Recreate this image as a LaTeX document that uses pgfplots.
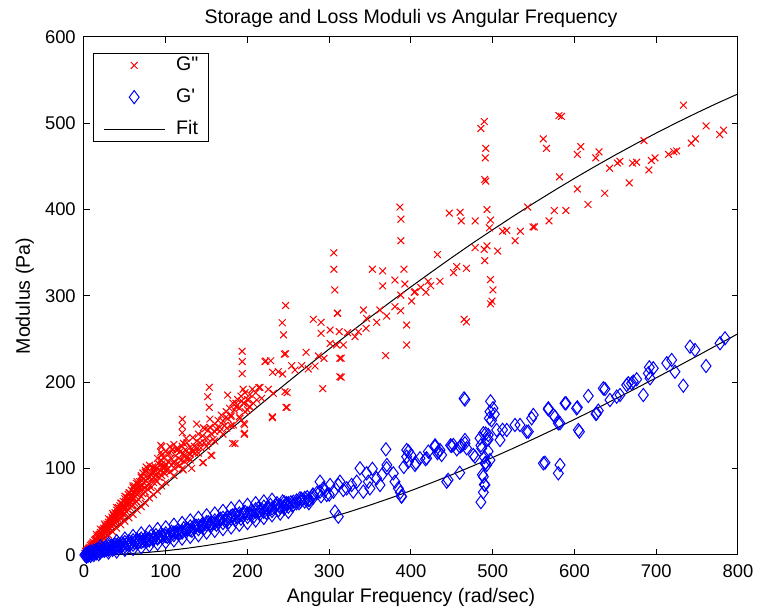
\documentclass[border=0pt]{standalone}
\usepackage{pgfplots}
\pgfplotsset{compat=1.18}
\usepackage{fontspec}
\setmainfont{Liberation Sans}[Ligatures=TeXOff]
\newcommand{\lblfont}{\fontsize{9.8}{11.5}\selectfont}
\newcommand{\tckfont}{\fontsize{9.2}{11}\selectfont}
\begin{document}
\begin{tikzpicture}
\begin{axis}[
  scale only axis, width=327pt, height=259pt,
  xmin=0, xmax=800, ymin=0, ymax=600,
  xtick={0,100,...,800}, ytick={0,100,...,600},
  clip=false,
  /pgf/number format/assume math mode=true,
  tick align=inside, major tick length=3pt,
  tick style={black, line width=0.5pt},
  axis line style={line width=0.5pt},
  ticklabel style={font=\tckfont},
  xticklabel style={yshift=-1.5pt},
  yticklabel style={xshift=-0.6pt},
  title={Storage and Loss Moduli vs Angular Frequency},
  title style={at={(axis description cs:0.5,1)}, anchor=base, yshift=0.5pt, font=\lblfont},
  xlabel={Angular Frequency (rad/sec)},
  xlabel style={at={(axis description cs:0.5,0)}, anchor=base, yshift=-24pt, font=\lblfont},
  ylabel={Modulus (Pa)},
  ylabel style={at={(axis description cs:-0.0826,0.5)}, anchor=base, rotate=0, font=\lblfont},
  legend cell align=left,
  legend image code/.code={\draw[mark repeat=2,mark phase=2,#1] plot coordinates {(0pt,0pt) (15.25pt,0pt) (30.5pt,0pt)};},
  legend style={at={(axis description cs:0,1)}, anchor=north west, xshift=4.35pt, yshift=-8.1pt,
    draw=black, line width=0.5pt, inner xsep=5pt, inner ysep=1.7pt, row sep=7.5pt, column sep=5.5pt,
    nodes={inner sep=0pt}, font=\lblfont},
]
\coordinate (ll) at (rel axis cs:0,0);
\coordinate (ur) at (rel axis cs:1,1);
% G'' (loss modulus)
\addplot[only marks, mark=x, red, mark size=2.4pt, line width=0.5pt] coordinates {
(1,2) (2,4) (2,1) (3,5) (3,3) (4,6) (4,3) (5,7) (5,4) (6,8) (6,5) (7,9) (7,6) (8,11) (8,7) (9,12) (9,8) (10,13) (10,9)
(11,15) (11,10) (12,14) (12,11) (13,17) (13,12) (14,18) (14,13) (15,19) (15,14) (16,21) (16,15) (17,20) (17,16) (18,23) (18,17)
(19,24) (19,18) (20,26) (20,19) (21,25) (21,21) (22,28) (22,22) (23,29) (23,24) (24,31) (24,23) (25,30) (25,26) (26,34) (26,25)
(27,32) (27,28) (28,36) (28,27) (29,35) (29,30) (30,38) (30,29) (31,36) (31,32) (32,41) (32,31) (33,39) (33,34) (34,44) (34,33)
(35,42) (35,37) (36,46) (36,35) (37,44) (37,39) (38,49) (38,37) (39,47) (39,42) (40,52) (40,39) (41,48) (41,44) (42,55) (42,41)
(43,51) (43,46) (44,57) (44,43) (45,54) (45,48) (46,60) (46,45) (47,56) (47,50) (48,62) (48,47) (49,58) (49,53) (50,65) (50,48)
(51,61) (51,55) (52,67) (52,50) (53,63) (53,57) (54,70) (54,52) (55,66) (55,60) (56,72) (56,55) (57,68) (57,62) (58,75) (58,57)
(59,70) (59,64) (60,78) (60,58) (61,73) (61,66) (62,80) (62,60) (63,76) (63,68) (64,83) (64,62) (65,78) (65,70) (66,82) (67,73)
(67,64) (68,85) (69,76) (70,90) (70,68) (71,80) (72,95) (72,71) (73,84) (74,78) (75,98) (75,73) (76,86) (77,80) (78,100) (78,76)
(79,90) (80,82) (81,94) (82,78) (83,88) (84,102) (85,84) (86,96) (87,88) (88,100) (89,85) (90,95) (91,106) (92,90) (93,98)
(94,110) (95,92) (96,103) (97,96) (98,112) (99,94) (100,105) (101,98) (102,118) (103,100) (104,108) (105,96) (106,112) (107,104)
(108,122) (110,108) (111,100) (112,115) (113,105) (114,124) (116,112) (117,104) (118,120) (119,110) (120,126) (122,115) (123,108)
(124,122) (125,112) (126,130) (128,118) (129,112) (130,125) (132,120) (133,136) (135,126) (136,118) (138,132) (139,124) (140,140)
(142,130) (143,124) (145,138) (147,130) (148,146) (150,136) (152,130) (154,148) (156,140) (158,134) (160,152) (162,146) (164,156)
(166,148) (168,162) (170,155) (172,150) (174,166) (176,158) (178,170) (180,162) (182,176) (184,168) (186,172) (188,180) (190,170)
(192,184) (195,176) (197,188) (200,180) (203,186) (206,192) (210,188)
(15,24) (20,30) (25,36) (30,42) (35,48) (40,55) (45,60) (50,68) (55,72) (60,80) (65,85) (70,92) (75,96) (80,104) (85,100)
(90,112) (100,120) (105,118) (110,128) (115,122) (125,135)
(20,14) (25,19) (30,23) (35,27) (40,31) (45,35) (50,39) (55,43) (60,47) (65,52) (70,56) (75,60) (80,66) (85,70) (90,74) (95,80)
(100,84) (110,92) (120,100) (130,110) (140,118) (150,126) (160,132) (170,140) (180,150) (190,160) (200,168)
(22,25) (27,30) (33,37) (38,43) (43,50) (48,56) (53,60) (58,66) (63,72) (68,78) (73,88) (78,88) (83,95) (88,92) (93,104) (98,100)
(120.3,157.2) (120.3,149.5) (120.3,141.7) (121.5,129.4) (95,125.5) (95,115.8) (95,105.4) (94,127) (94,119) (76,102)
(181.9,129.4) (196,139.8) (155.3,115.8) (145.2,107) (175.8,185.3) (185.9,175.7) (173.7,159.5) (179.8,160.2) (192.9,178.4)
(201,179.5) (214,194) (221.4,224) (228.4,225) (230.3,160.2) (137.9,151.7) (146,147.5) (152,144.8) (160.2,142.8) (166.4,143.6)
(105.2,125.5) (113.4,121.6) (121.5,117.8) (129.7,117) (133.7,119.7) (174.6,146.8) (182.6,150.6) (190.8,158.3) (197,166)
(203,171.8) (211.3,179.5) (86.9,102.3) (99.1,102.3) (109.2,106.2) (121.5,98.5) (131.7,100.4) (153.3,194.2) (151.3,183.4)
(153.3,171) (154.1,157.5) (156.3,115) (146,107) (184.7,129) (196.5,141) (196.5,151)
(193.5,236) (193.5,224) (193.5,210) (194.7,192) (195.7,175.7) (195.7,152.5)
(222.6,224.7) (230.8,211.6) (237.7,212.3) (243,209.7) (245,232.8) (215.3,194.2) (225.5,191.9) (217.4,181.5) (207.1,175.7)
(202.2,171.8) (231.6,187.3) (245.9,189.2) (247.1,171) (230.4,159) (254,219.3) (258.1,214.3) (266.3,219.3) (271.6,234.8)
(274.4,215.5) (282.6,218.9) (292,192.7) (286.6,230.5) (293.6,227.8) (246.6,289) (242.5,269) (244,255) (246.6,233) (248.5,171) (248.5,188)
(290,269.5) (290,256.8) (280.5,273) (301,260.6) (310.3,280) (313,227.8) (313,206.5) (301,245) (309,243.3) (317.2,243.3)
(312.3,258.7) (322.5,257.5) (331.5,252.9) (335.6,258.7) (341.7,283.8) (345,262.6) (345.8,274) (358,269.5) (362,283.8)
(370.3,276.8) (369,231) (352.7,331) (365.4,329) (365.4,311.6) (380.4,318.5) (387.4,301) (391.4,331) (392.6,313.9) (380.4,287.6)
(387.4,283) (394.7,266.4) (394.7,243.3) (400.8,294.2) (405,305) (305.6,350) (305.6,331) (306.8,307) (310,280) (314.6,228)
(314.6,206) (386.5,403) (387.7,389) (387.7,364)
(432.4,348) (435.4,317) (421,317) (424,312) (412,310) (404,304.3) (418.3,304.3) (446.8,396) (460,397) (461.4,387) (452,327)
(456,334) (467.8,332) (465,273) (467.8,270) (478.5,387) (478.5,356) (485.5,494) (489.7,502) (490.8,460) (491.4,471) (490.2,435)
(491.4,433) (493,400) (497.3,388) (496,379) (493,358) (489.7,354) (490.2,341) (497.3,319) (500.3,307) (499,294) (497.3,291)
(506,352) (512,375) (517.2,376) (527.4,364) (533.8,375) (542.7,403) (549.2,380) (551,380) (561.7,482) (565.8,471) (568.8,387)
(575.3,399) (581,509) (584,508) (581.7,438) (589.4,399) (603.5,464) (607.7,473) (603.5,424) (616.5,406) (626,460) (630,467)
(637,419) (643,448) (652.5,454) (655.5,456) (667,431) (671,454) (676,455) (685,480) (691,446) (694,457) (698.5,460) (715,464)
(721.5,467) (725,468) (733.3,521) (742.8,477) (748,482) (761,497) (777.6,487) (782.3,492)
};
\addlegendentry{G"}
% G' (storage modulus)
\addplot[only marks, mark=diamond, blue, mark size=3.3pt, line width=0.5pt] coordinates {
(1,0) (2,1) (3,0) (4,2) (5,1) (6,3) (7,1) (8,4) (9,2) (10,3) (12,5) (13,2) (14,4) (15,6) (16,3) (18,7) (19,4) (20,6) (22,8)
(23,5) (24,7) (26,9) (27,6) (28,8) (30,10) (31,7) (32,9) (34,11) (35,8) (36,10) (38,12) (39,9) (40,11) (42,13) (43,10) (44,12)
(46,14) (47,11) (48,13) (50,15) (52,12) (53,14) (55,16) (57,13) (58,15) (60,17) (62,14) (63,16) (65,18) (67,15) (68,17) (70,19)
(72,16) (74,18) (76,20) (78,17) (80,19) (82,22) (84,18) (86,20) (88,23) (90,19) (92,21) (94,24) (96,20) (98,23) (100,25) (102,21)
(105,24) (107,27) (110,23) (112,26) (115,29) (117,25) (120,28) (122,31) (125,27) (127,30) (130,33) (132,28) (135,31) (137,34)
(140,30) (142,33) (145,36) (147,31) (150,35) (152,38) (155,33) (157,37) (160,40) (162,35) (165,38) (167,42) (170,37) (172,40)
(175,44) (177,38) (180,42) (182,46) (185,40) (187,44) (190,48) (192,42) (195,46) (197,50) (200,44) (203,48) (205,52) (208,45)
(210,50) (213,54) (215,47) (218,52) (220,56) (223,49) (225,53) (228,58) (230,51) (233,55) (236,60) (238,52) (240,57) (243,62)
(245,54) (248,59) (250,56) (253,61) (256,58) (260,63) (263,60) (266,65) (270,62) (273,67) (276,64) (280,70)
(5,-1) (10,1) (15,2) (20,3) (25,5) (30,6) (35,6) (40,8) (45,9) (50,10) (55,11) (60,12) (65,14) (70,15) (75,16) (80,17) (85,18)
(90,20) (95,22) (100,22) (105,21) (110,26) (115,25) (120,26) (125,30) (130,29) (135,34) (140,34) (145,33) (150,38) (155,36)
(160,37) (165,41) (170,43) (175,40) (180,45) (185,47) (190,45) (195,49) (200,48) (205,46) (210,53) (215,51) (220,50) (225,56)
(230,54) (235,58) (240,55) (245,61) (250,60) (255,57) (260,60) (265,62) (270,66) (275,60) (280,66) (285,72) (290,68) (295,75) (300,70)
(20,10) (30,13) (40,16) (50,19) (60,22) (70,25) (80,27) (90,30) (100,32) (110,35) (120,37) (130,40) (140,43) (150,46) (160,48)
(170,51) (180,54) (190,56) (200,58) (210,60) (220,62) (230,64)
(30,3) (40,4) (50,6) (60,7) (70,9) (80,11) (90,13) (100,15) (110,17) (120,19) (130,21) (140,23) (150,26) (160,28) (170,30)
(180,32) (190,35) (200,37) (210,40) (220,43) (230,46) (240,48) (250,50) (3,-2) (8,-1) (12,0) (18,1)
(288.7,84.9) (292.7,77.2) (301,81.1) (305,73.4) (311.1,81.1) (313.1,84.9) (317.2,75.3) (321.3,77.2) (327.4,81.1) (333.6,84.9)
(280.5,69.5) (274.4,63.7) (264.2,65.6) (256.1,61.7) (247.9,59.9) (243.8,56) (307,50.2) (311.1,44.4) (288.7,73.4) (296.9,69.5)
(329.4,73.4) (341.7,73.4) (349.8,77.2)
(337.6,100.4) (345.8,94.6) (347.8,84.9) (358,88.8) (362.1,81.1) (370.3,100.4) (378.4,94.6) (380.4,84.9) (384.5,77.2) (388.6,67.6)
(394.7,121.6) (394.7,113.9) (396.8,108) (404.9,104.3) (411,112) (419.2,112) (421.2,119.7) (429.4,125.5) (433.4,119.7) (437.5,115.8)
(443.7,84.9) (451.8,127.4) (459.9,125.5) (466,129.4) (468.1,123.6) (476.2,115.8) (484.4,135.2) (486.5,123.6) (492.6,104.3)
(494.5,139) (495.8,158.3) (496.6,166)
(369.3,122.4) (464.9,181.4) (466,180) (497.3,178) (500.3,170) (502,163) (498.5,156) (491.4,140.6) (494.4,133.8) (485.5,127)
(512,145) (491.4,106.6) (487.3,93) (489.7,81.6) (488.5,72.6) (485.5,61.2) (490.5,106.2) (496.6,110) (488.5,90.7) (490.5,81.1)
(352.8,99.8) (364.6,93) (370.5,104.3) (387,72.6) (388.2,68) (391.2,102) (397,120) (400,115.6) (406,106.6) (417.7,111) (429.5,127)
(432.4,118) (445.4,87) (459.6,95.2) (448.4,127) (456,122.4) (461.9,127) (489.7,113.4) (494.4,120) (435.5,121.6) (449.7,126.3)
(466,133.2) (478.3,113.9) (488.5,140.9) (492.6,133.2)
(504.8,144.8) (508.9,133.2) (517.1,144.8) (527.2,150.6) (533.3,150.6) (541.5,142.8) (547.6,158.3) (549.6,162.2) (543.6,142.9)
(561.9,106.2) (563.9,106.9) (580.2,94.6) (582.3,104.3) (567.9,168.7) (574.1,162.2) (582.3,152.6) (589.6,175.7) (603.5,171)
(604.7,144.8) (606,142.8) (616.9,184.2) (626.3,163.3) (629.1,167.2) (637.3,192.3) (643.4,179.5) (651.6,183.4) (655.7,185.3)
(665.8,198.9) (671.9,200.8) (676.1,203.5) (684.2,185.3) (691.5,217.4) (696.4,216.3) (692.4,204.7) (712.8,222.1) (718.9,225.9)
(722.9,212.3) (733.1,196.1) (741.3,241.3) (747.4,237.5) (760.9,218.9) (778,245.2) (784.1,251) (568,169.9) (576.1,160.2)
(580.2,152.5) (588.4,175.7) (602.6,169.9) (627.1,164.1) (635.2,193) (663.8,196.9) (669.9,198.9) (690.3,210.4)
};
\addlegendentry{G'}
% Fit lines
\addplot[black, line width=0.5pt] coordinates {
(2,1.6) (25,20.53) (50,41.03) (75,61.48) (100,81.84) (125,102.10) (150,122.22) (175,142.15) (200,161.95) (225,181.50)
(250,200.83) (275,219.89) (300,238.67) (325,257.18) (350,275.38) (375,293.18) (400,310.66) (425,327.79) (450,344.57)
(475,360.97) (500,376.79) (525,392.33) (550,407.44) (575,422.04) (600,436.29) (625,450.06) (650,463.40) (675,476.29)
(700,488.74) (725,500.76) (750,512.33) (775,523.49) (800,534.08)
};
\addlegendentry{Fit}
\addplot[black, line width=0.5pt, forget plot] coordinates {
(2,0) (25,0.31) (50,1.23) (75,2.77) (100,4.91) (125,7.66) (150,11.00) (175,14.93) (200,19.43) (225,24.50) (250,30.12)
(275,36.28) (300,42.96) (325,50.15) (350,57.83) (375,65.97) (400,74.56) (425,83.59) (450,93.03) (475,102.88) (500,113.04)
(525,123.58) (550,134.45) (575,145.60) (600,157.07) (625,168.77) (650,180.73) (675,192.90) (700,205.27) (725,217.83)
(750,230.55) (775,243.42) (800,256.35)
};
\end{axis}
\pgfresetboundingbox
\path ([shift={(-42pt,-28.5pt)}]ll) rectangle ([shift={(9.5pt,18.5pt)}]ur);
\end{tikzpicture}
\end{document}
